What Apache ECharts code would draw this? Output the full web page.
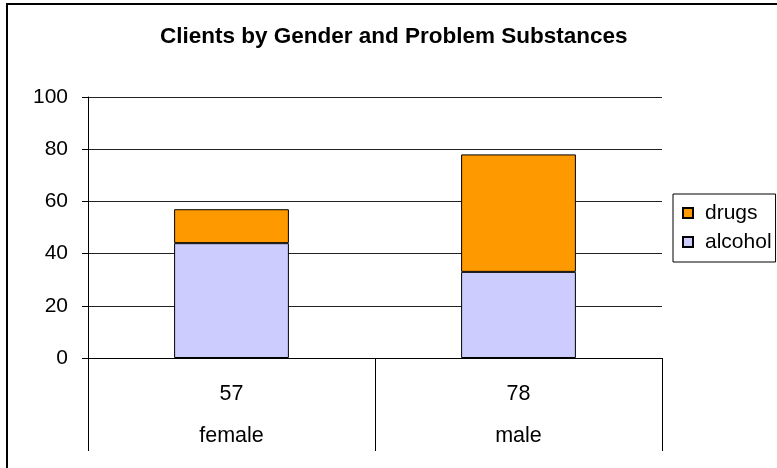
<!DOCTYPE html>
<html>
<head>
<meta charset="utf-8">
<script src="https://cdn.jsdelivr.net/npm/echarts@6/dist/echarts.min.js"></script>
<style>
  html, body { margin: 0; padding: 0; background: #fff; }
  #chart { width: 777px; height: 468px; }
</style>
</head>
<body>
<div id="chart"></div>
<script>
// Clients by gender, split by problem substance
const categories = ['female', 'male'];
const alcohol = [44, 33];
const drugs = [13, 45];
const yTicks = [0, 20, 40, 60, 80, 100];

// Totals shown above each category name
const totals = categories.map((_, i) => alcohol[i] + drugs[i]);

const FONT = '"Liberation Sans", Arial, sans-serif';

const chart = echarts.init(document.getElementById('chart'), null, { renderer: 'canvas' });

chart.setOption({
  backgroundColor: '#ffffff',
  animation: false,
  title: {
    text: 'Clients by Gender and Problem Substances',
    left: 160,
    top: 25,
    padding: 0,
    textStyle: { fontFamily: FONT, fontSize: 22.5, fontWeight: 'bold', color: '#000' }
  },
  legend: {
    orient: 'vertical',
    left: 673,
    top: 194,
    padding: [7, 4, 8, 9],
    itemGap: 5,
    itemWidth: 10,
    itemHeight: 10,
    icon: 'rect',
    borderColor: '#000',
    borderWidth: 1,
    data: ['drugs', 'alcohol'],
    textStyle: { fontFamily: FONT, fontSize: 21, color: '#000', lineHeight: 24, padding: [0, 0, 0, 7] }
  },
  grid: { left: 88, right: 115, top: 97, bottom: 110, containLabel: false },
  xAxis: {
    type: 'category',
    data: categories,
    axisLine: { show: true, lineStyle: { color: '#000', width: 1 } },
    axisTick: { show: true, length: 93, lineStyle: { color: '#000', width: 1 } },
    axisLabel: {
      margin: 15,
      interval: 0,
      formatter: (v, i) => '{t|' + totals[i] + '}\n{c|' + v + '}',
      rich: {
        t: { fontFamily: FONT, fontSize: 21.5, color: '#000', lineHeight: 42 },
        c: { fontFamily: FONT, fontSize: 21.5, color: '#000', lineHeight: 42 }
      }
    }
  },
  yAxis: {
    type: 'value',
    min: yTicks[0],
    max: yTicks[yTicks.length - 1],
    interval: yTicks[1] - yTicks[0],
    axisLine: { show: true, lineStyle: { color: '#000', width: 1 } },
    axisTick: { show: true, length: 6, lineStyle: { color: '#000', width: 1 } },
    axisLabel: { margin: 20, fontFamily: FONT, fontSize: 21, color: '#000' },
    splitLine: { show: true, lineStyle: { color: '#222', width: 1 } }
  },
  series: [
    {
      name: 'alcohol',
      type: 'bar',
      stack: 'total',
      barWidth: '40%',
      data: alcohol,
      itemStyle: { color: '#CCCCFF', borderColor: '#000', borderWidth: 1 }
    },
    {
      name: 'drugs',
      type: 'bar',
      stack: 'total',
      barWidth: '40%',
      data: drugs,
      itemStyle: { color: '#FF9900', borderColor: '#000', borderWidth: 1 }
    }
  ],
  graphic: [
    {
      type: 'rect',
      silent: true,
      shape: { x: 7, y: 4, width: 800, height: 500 },
      style: { fill: 'none', stroke: '#000', lineWidth: 2 }
    }
  ]
});
</script>
</body>
</html>
